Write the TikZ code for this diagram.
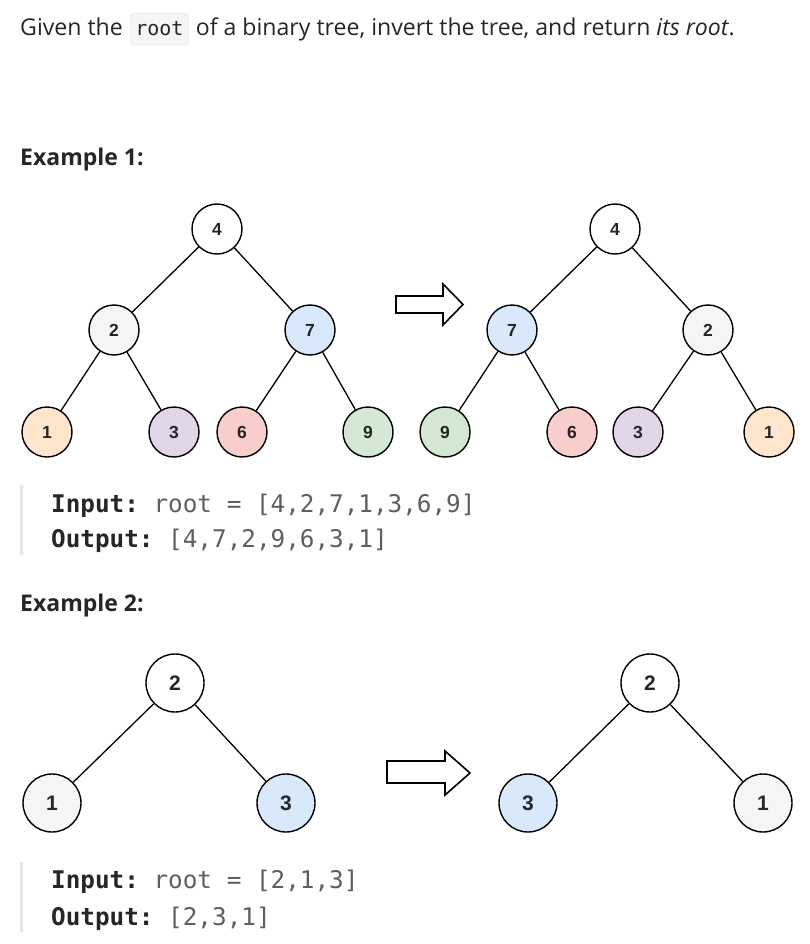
\documentclass[tikz,border=0pt]{standalone}
\usepackage{fontspec}
\setmainfont{Open Sans}
\setmonofont{DejaVu Sans Mono}
\newfontfamily\labelfont{Liberation Sans}
\usetikzlibrary{positioning}

\definecolor{peach}{HTML}{FFE6CC}
\definecolor{lavender}{HTML}{E1D5E7}
\definecolor{rose}{HTML}{F8CECC}
\definecolor{mint}{HTML}{D5E8D4}
\definecolor{skyblue}{HTML}{DAE8FC}
\definecolor{paleGrey}{HTML}{F5F5F5}
\definecolor{codeGrey}{HTML}{5E5E5E}
\definecolor{barGrey}{HTML}{E6E6E6}
\definecolor{inkGrey}{HTML}{262626}

\begin{document}
\begin{tikzpicture}[x=1pt, y=-1pt,
    treenode/.style={circle, draw=black, line width=1.4pt, minimum size=50pt, inner sep=0pt,
        font=\labelfont\bfseries\fontsize{17.5}{17.5}\selectfont, text=inkGrey},
    bignode/.style={treenode, minimum size=58pt, font=\labelfont\bfseries\fontsize{21}{21}\selectfont},
    edge/.style={line width=1.3pt},
    hollowarrow/.style={line width=1.6pt, fill=white, line join=miter},
    codebox/.style={draw=barGrey, fill=paleGrey, rounded corners=4pt, inner xsep=5pt,
        minimum height=32pt, font=\ttfamily\fontsize{20}{20}\selectfont, text=inkGrey},
    codeline/.style={anchor=base west, inner sep=0pt, font=\ttfamily\fontsize{24.3}{24.3}\selectfont, text=inkGrey},
    headline/.style={anchor=base west, inner sep=0pt, font=\bfseries\fontsize{23}{23}\selectfont, text=inkGrey}]
    \useasboundingbox[fill=white] (0,0) rectangle (810,944);

    % Draw the problem statement
    \node (given) [anchor=base west, inner sep=0pt, font=\fontsize{23.1}{23.1}\selectfont, text=inkGrey] at (20,36) {Given the};
    \node (rootcode) [codebox, anchor=base west] at ([xshift=7pt]given.base east) {root};
    \node (statement) [anchor=base west, inner sep=0pt, font=\fontsize{23.1}{23.1}\selectfont, text=inkGrey] at ([xshift=7pt]rootcode.base east) {of a binary tree, invert the tree, and return \textit{its root}.};

    % Example 1
    \node (exampleA) [headline] at (20,165) {Example 1:};

    % Draw the nodes of the first tree
    \node (a4) [treenode] at (217,229) {4};
    \node (a2) [treenode, fill=paleGrey] at (114,330) {2};
    \node (a7) [treenode, fill=skyblue] at (310,330) {7};
    \node (a1) [treenode, fill=peach] at (47,432) {1};
    \node (a3) [treenode, fill=lavender] at (174,432) {3};
    \node (a6) [treenode, fill=rose] at (242,432) {6};
    \node (a9) [treenode, fill=mint] at (368,432) {9};

    % Draw the nodes of the inverted tree
    \node (b4) [treenode] at (615,229) {4};
    \node (b7) [treenode, fill=skyblue] at (512,330) {7};
    \node (b2) [treenode, fill=paleGrey] at (708,330) {2};
    \node (b9) [treenode, fill=mint] at (445,432) {9};
    \node (b6) [treenode, fill=rose] at (572,432) {6};
    \node (b3) [treenode, fill=lavender] at (638,432) {3};
    \node (b1) [treenode, fill=peach] at (769,432) {1};

    % Draw the edges
    \draw[edge] (a4) -- (a2);
    \draw[edge] (a4) -- (a7);
    \draw[edge] (a2) -- (a1);
    \draw[edge] (a2) -- (a3);
    \draw[edge] (a7) -- (a6);
    \draw[edge] (a7) -- (a9);
    \draw[edge] (b4) -- (b7);
    \draw[edge] (b4) -- (b2);
    \draw[edge] (b7) -- (b9);
    \draw[edge] (b7) -- (b6);
    \draw[edge] (b2) -- (b3);
    \draw[edge] (b2) -- (b1);

    % Draw the arrow between the trees
    \draw[hollowarrow] (396,296) -- (443,296) -- (443,284) -- (463,304.5) -- (443,325) -- (443,313) -- (396,313) -- cycle;

    % Input and output
    \fill[barGrey] (20,485) rectangle (23,555);
    \node (inputA) [codeline] at (51,512) {\textbf{Input:} \textcolor{codeGrey}{root = [4,2,7,1,3,6,9]}};
    \node (outputA) [codeline] at (51,547) {\textbf{Output:} \textcolor{codeGrey}{[4,7,2,9,6,3,1]}};

    % Example 2
    \node (exampleB) [headline] at (20,611) {Example 2:};

    \node (c2) [bignode] at (175,683) {2};
    \node (c1) [bignode, fill=paleGrey] at (52,803) {1};
    \node (c3) [bignode, fill=skyblue] at (286,803) {3};

    \node (d2) [bignode] at (650,683) {2};
    \node (d3) [bignode, fill=skyblue] at (528,803) {3};
    \node (d1) [bignode, fill=paleGrey] at (763,803) {1};

    \draw[edge] (c2) -- (c1);
    \draw[edge] (c2) -- (c3);
    \draw[edge] (d2) -- (d3);
    \draw[edge] (d2) -- (d1);

    \draw[hollowarrow] (387,761) -- (445,761) -- (445,751) -- (470,773) -- (445,795) -- (445,783) -- (387,783) -- cycle;

    \fill[barGrey] (20,862) rectangle (23,932);
    \node (inputB) [codeline] at (51,888) {\textbf{Input:} \textcolor{codeGrey}{root = [2,1,3]}};
    \node (outputB) [codeline] at (51,925) {\textbf{Output:} \textcolor{codeGrey}{[2,3,1]}};
\end{tikzpicture}
\end{document}
